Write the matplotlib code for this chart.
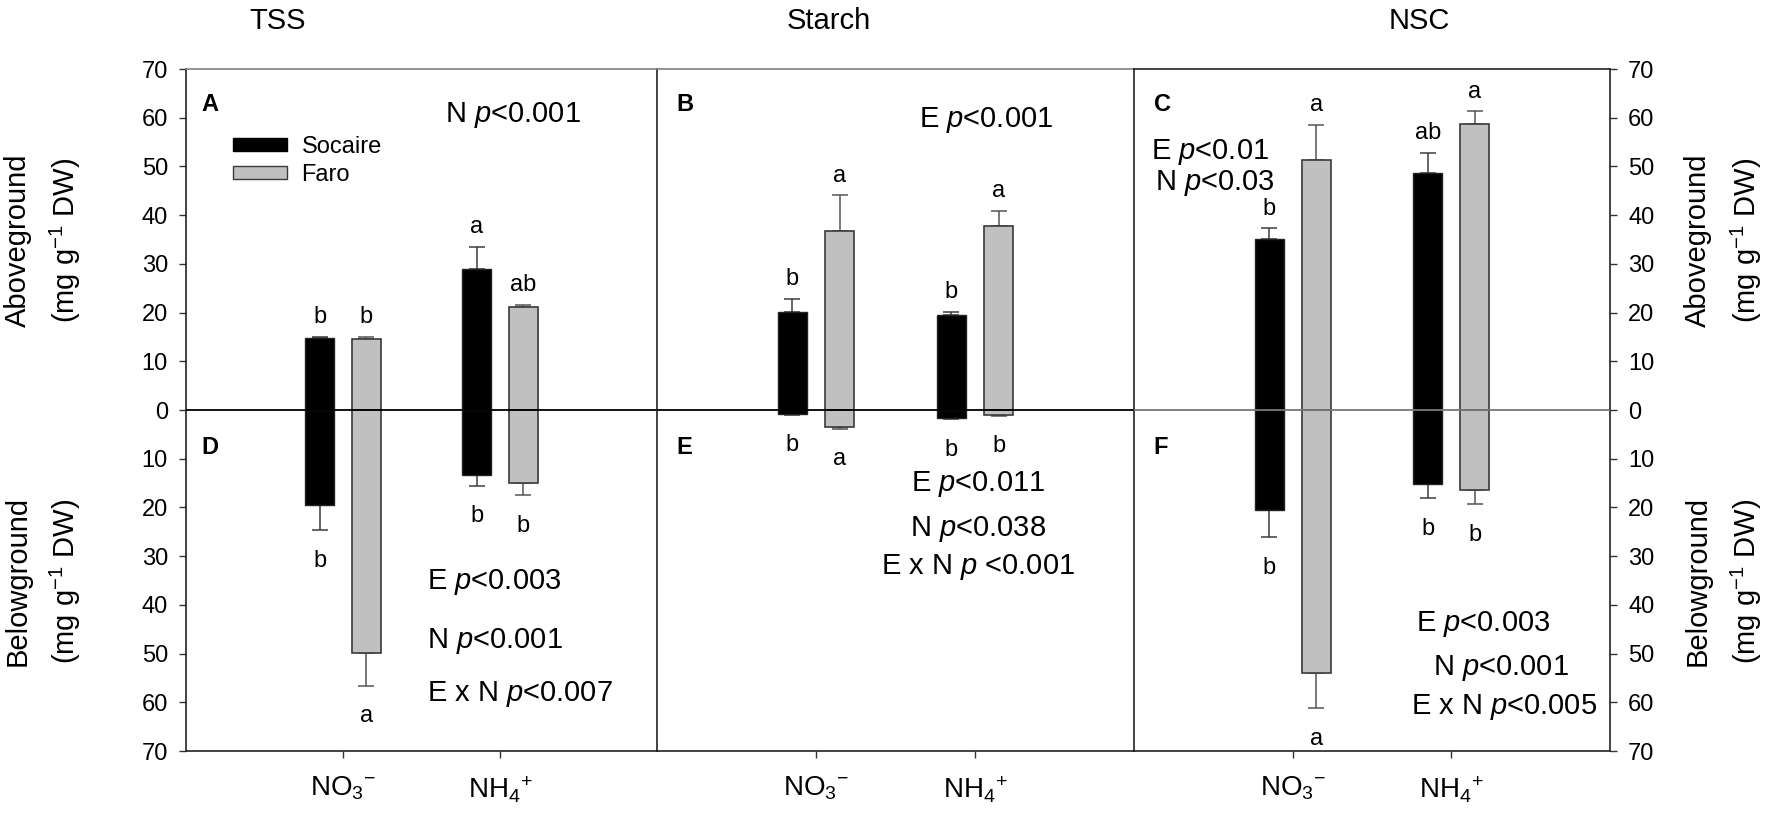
import matplotlib
matplotlib.use('Agg')
import matplotlib.pyplot as plt
from matplotlib.patches import Patch
import numpy as np

plt.rcParams['font.family'] = ['Liberation Sans', 'DejaVu Sans']
plt.rcParams['mathtext.fontset'] = 'custom'
plt.rcParams['mathtext.rm'] = 'Liberation Sans'
plt.rcParams['mathtext.it'] = 'Liberation Sans:italic'
plt.rcParams['mathtext.bf'] = 'Liberation Sans:bold'
NARROW = ['Liberation Sans Narrow', 'Liberation Sans', 'DejaVu Sans']

# ---------------- data ----------------
nitrogen = ['NO$_3$$^{-}$', 'NH$_4$$^{+}$']
cultivars = ['Socaire', 'Faro']
titles = ['TSS', 'Starch', 'NSC']

# TSS (mg g-1 DW)
tss_soc_above = [14.7, 29.0]
tss_soc_above_se = [0.3, 4.5]
tss_faro_above = [14.6, 21.1]
tss_faro_above_se = [0.4, 0.5]
tss_soc_below = [19.5, 13.3]
tss_soc_below_se = [5.2, 2.3]
tss_faro_below = [49.9, 15.0]
tss_faro_below_se = [6.7, 2.5]

# Starch
starch_soc_above = [20.1, 19.5]
starch_soc_above_se = [2.7, 0.6]
starch_faro_above = [36.7, 37.8]
starch_faro_above_se = [7.4, 3.1]
starch_soc_below = [0.8, 1.7]
starch_soc_below_se = [0.2, 0.2]
starch_faro_below = [3.4, 1.0]
starch_faro_below_se = [0.4, 0.2]

# NSC
nsc_soc_above = [35.0, 48.6]
nsc_soc_above_se = [2.3, 4.2]
nsc_faro_above = [51.4, 58.8]
nsc_faro_above_se = [7.2, 2.5]
nsc_soc_below = [20.6, 15.2]
nsc_soc_below_se = [5.5, 2.9]
nsc_faro_below = [54.0, 16.4]
nsc_faro_below_se = [7.2, 2.9]

# significance letters
tss_letters = dict(soc_above=['b', 'a'], faro_above=['b', 'ab'],
                   soc_below=['b', 'b'], faro_below=['a', 'b'])
starch_letters = dict(soc_above=['b', 'b'], faro_above=['a', 'a'],
                      soc_below=['b', 'b'], faro_below=['a', 'b'])
nsc_letters = dict(soc_above=['b', 'ab'], faro_above=['a', 'a'],
                   soc_below=['b', 'b'], faro_below=['a', 'b'])

panel_tags_top = ['A', 'B', 'C']
panel_tags_bottom = ['D', 'E', 'F']

ytick_values = np.arange(-70, 71, 10)

# ---------------- figure ----------------
W, H = 1772, 821
fig = plt.figure(figsize=(W / 100, H / 100), dpi=100)

x_edges = [186, 657, 1134, 1610]
y_top, y_bot = 69, 751
axes = []
for i in range(3):
    l = x_edges[i] / W
    w = (x_edges[i + 1] - x_edges[i]) / W
    b = 1 - y_bot / H
    h = (y_bot - y_top) / H
    axes.append(fig.add_axes([l, b, w, h]))

datasets = [
    (tss_soc_above, tss_soc_above_se, tss_faro_above, tss_faro_above_se,
     tss_soc_below, tss_soc_below_se, tss_faro_below, tss_faro_below_se, tss_letters),
    (starch_soc_above, starch_soc_above_se, starch_faro_above, starch_faro_above_se,
     starch_soc_below, starch_soc_below_se, starch_faro_below, starch_faro_below_se, starch_letters),
    (nsc_soc_above, nsc_soc_above_se, nsc_faro_above, nsc_faro_above_se,
     nsc_soc_below, nsc_soc_below_se, nsc_faro_below, nsc_faro_below_se, nsc_letters),
]

x = np.array([1.0, 2.0])
off = 0.148
bw = 0.183
soc_color = 'black'
faro_color = '#c0c0c0'
faro_edge = '#3a3a3a'
gap_top = 2.8
gap_bot = 4.0
letter_fs = 17

for i, ax in enumerate(axes):
    (sa, sase, fa, fase, sb, sbse, fb, fbse, letters) = datasets[i]
    sa, sase, fa, fase = map(np.array, (sa, sase, fa, fase))
    sb, sbse, fb, fbse = map(np.array, (sb, sbse, fb, fbse))
    z = np.zeros(2)
    xs = x - off
    xf = x + off
    # error bars (behind bars)
    ax.errorbar(xs, sa, yerr=[z, sase], fmt='none', ecolor='#3c3c3c', elinewidth=1.1, capsize=6, capthick=1.1, zorder=1)
    ax.errorbar(xf, fa, yerr=[z, fase], fmt='none', ecolor='#555555', elinewidth=1.1, capsize=6, capthick=1.1, zorder=1)
    ax.errorbar(xs, -sb, yerr=[sbse, z], fmt='none', ecolor='#3c3c3c', elinewidth=1.1, capsize=6, capthick=1.1, zorder=1)
    ax.errorbar(xf, -fb, yerr=[fbse, z], fmt='none', ecolor='#555555', elinewidth=1.1, capsize=6, capthick=1.1, zorder=1)
    # bars
    ax.bar(xs, sa, bw, color=soc_color, edgecolor='#222222', linewidth=1.0, zorder=2)
    ax.bar(xs, -sb, bw, color=soc_color, edgecolor='#222222', linewidth=1.0, zorder=2)
    ax.bar(xf, fa, bw, color=faro_color, edgecolor=faro_edge, linewidth=1.2, zorder=2)
    ax.bar(xf, -fb, bw, color=faro_color, edgecolor=faro_edge, linewidth=1.2, zorder=2)
    # zero line
    zc = '#777777' if i == 2 else 'black'
    ax.axhline(0, color=zc, lw=1.3, zorder=3)
    # letters
    for j in range(2):
        ax.text(xs[j], sa[j] + sase[j] + gap_top, letters['soc_above'][j], ha='center', va='baseline', fontsize=letter_fs)
        ax.text(xf[j], fa[j] + fase[j] + gap_top, letters['faro_above'][j], ha='center', va='baseline', fontsize=letter_fs)
        ax.text(xs[j], -(sb[j] + sbse[j]) - gap_bot, letters['soc_below'][j], ha='center', va='top', fontsize=letter_fs)
        ax.text(xf[j], -(fb[j] + fbse[j]) - gap_bot, letters['faro_below'][j], ha='center', va='top', fontsize=letter_fs)

    ax.set_xlim(0, 3)
    ax.set_ylim(-70, 70)
    ax.set_xticks(x)
    ax.set_xticklabels(nitrogen, fontsize=20, family=NARROW)
    ax.tick_params(axis='x', direction='out', length=5, width=1, pad=12, color='#333333')
    for s in ['top', 'bottom', 'left', 'right']:
        ax.spines[s].set_linewidth(1.2)
        ax.spines[s].set_color('#222222')
    ax.spines['top'].set_color('#808080' if i < 2 else '#222222')

    # panel tags
    ax.text(0.10 if i == 0 else 0.125, 62.8, panel_tags_top[i], fontsize=17, fontweight='bold', ha='left', va='center')
    ax.text(0.10 if i == 0 else 0.125, -7.6, panel_tags_bottom[i], fontsize=17, fontweight='bold', ha='left', va='center')

# y axes
axes[0].set_yticks(ytick_values)
axes[0].set_yticklabels([str(abs(v)) for v in ytick_values], fontsize=17)
axes[0].tick_params(axis='y', direction='out', length=5, width=1, pad=8, color='#333333')
axes[1].set_yticks([])
axes[2].yaxis.tick_right()
axes[2].set_yticks(ytick_values)
axes[2].set_yticklabels([str(abs(v)) for v in ytick_values], fontsize=17)
axes[2].tick_params(axis='y', direction='out', length=5, width=1, pad=8, color='#333333')
axes[0].spines['right'].set_visible(False)
axes[1].spines['right'].set_visible(False)

# titles
title_x = [0.195, 0.36, 0.60]
for ax, t, tx in zip(axes, titles, title_x):
    ax.text(tx, 1.070, t, transform=ax.transAxes, ha='center', va='center', fontsize=21)

# legend
handles = [Patch(facecolor=soc_color, edgecolor='black'),
           Patch(facecolor=faro_color, edgecolor=faro_edge)]
axes[0].legend(handles, cultivars, loc='upper left', bbox_to_anchor=(0.10, 0.902),
               frameon=False, fontsize=17, handlelength=2.3, handleheight=0.45,
               handletextpad=0.6, labelspacing=0.25, borderpad=0, borderaxespad=0)

# statistics annotations
fs_p = 21
axes[0].text(1.65, 60.6, 'N $p$<0.001', fontsize=fs_p, ha='left', va='center')
axes[1].text(1.645, 59.6, 'E $p$<0.001', fontsize=fs_p, ha='left', va='center')
axes[2].text(0.11, 53.0, 'E $p$<0.01', fontsize=fs_p, ha='left', va='center')
axes[2].text(0.13, 46.7, 'N $p$<0.03', fontsize=fs_p, ha='left', va='center')

axes[0].text(1.535, -35.4, 'E $p$<0.003', fontsize=fs_p, ha='left', va='center')
axes[0].text(1.535, -47.5, 'N $p$<0.001', fontsize=fs_p, ha='left', va='center')
axes[0].text(1.535, -58.2, 'E x N $p$<0.007', fontsize=fs_p, ha='left', va='center')

axes[1].text(2.02, -15.2, 'E $p$<0.011', fontsize=fs_p, ha='center', va='center')
axes[1].text(2.02, -24.5, 'N $p$<0.038', fontsize=fs_p, ha='center', va='center')
axes[1].text(2.02, -32.3, 'E x N $p$ <0.001', fontsize=fs_p, ha='center', va='center')

axes[2].text(2.20, -43.9, 'E $p$<0.003', fontsize=fs_p, ha='center', va='center')
axes[2].text(2.31, -52.9, 'N $p$<0.001', fontsize=fs_p, ha='center', va='center')
axes[2].text(2.33, -60.9, 'E x N $p$<0.005', fontsize=fs_p, ha='center', va='center')

# y axis titles
unit = '(mg g$^{-1}$ DW)'
yc_top = 1 - 240 / H
yc_bot = 1 - 581 / H
for (x1, x2) in [(18, 65), (1698, 1746)]:
    fig.text(x1 / W, yc_top, 'Aboveground', rotation=90, ha='center', va='center', fontsize=21, family=NARROW)
    fig.text(x2 / W, yc_top, unit, rotation=90, ha='center', va='center', fontsize=21, family=NARROW)
    fig.text(x1 / W, yc_bot, 'Belowground', rotation=90, ha='center', va='center', fontsize=21, family=NARROW)
    fig.text(x2 / W, yc_bot, unit, rotation=90, ha='center', va='center', fontsize=21, family=NARROW)

fig.savefig('out.png', dpi=100)
